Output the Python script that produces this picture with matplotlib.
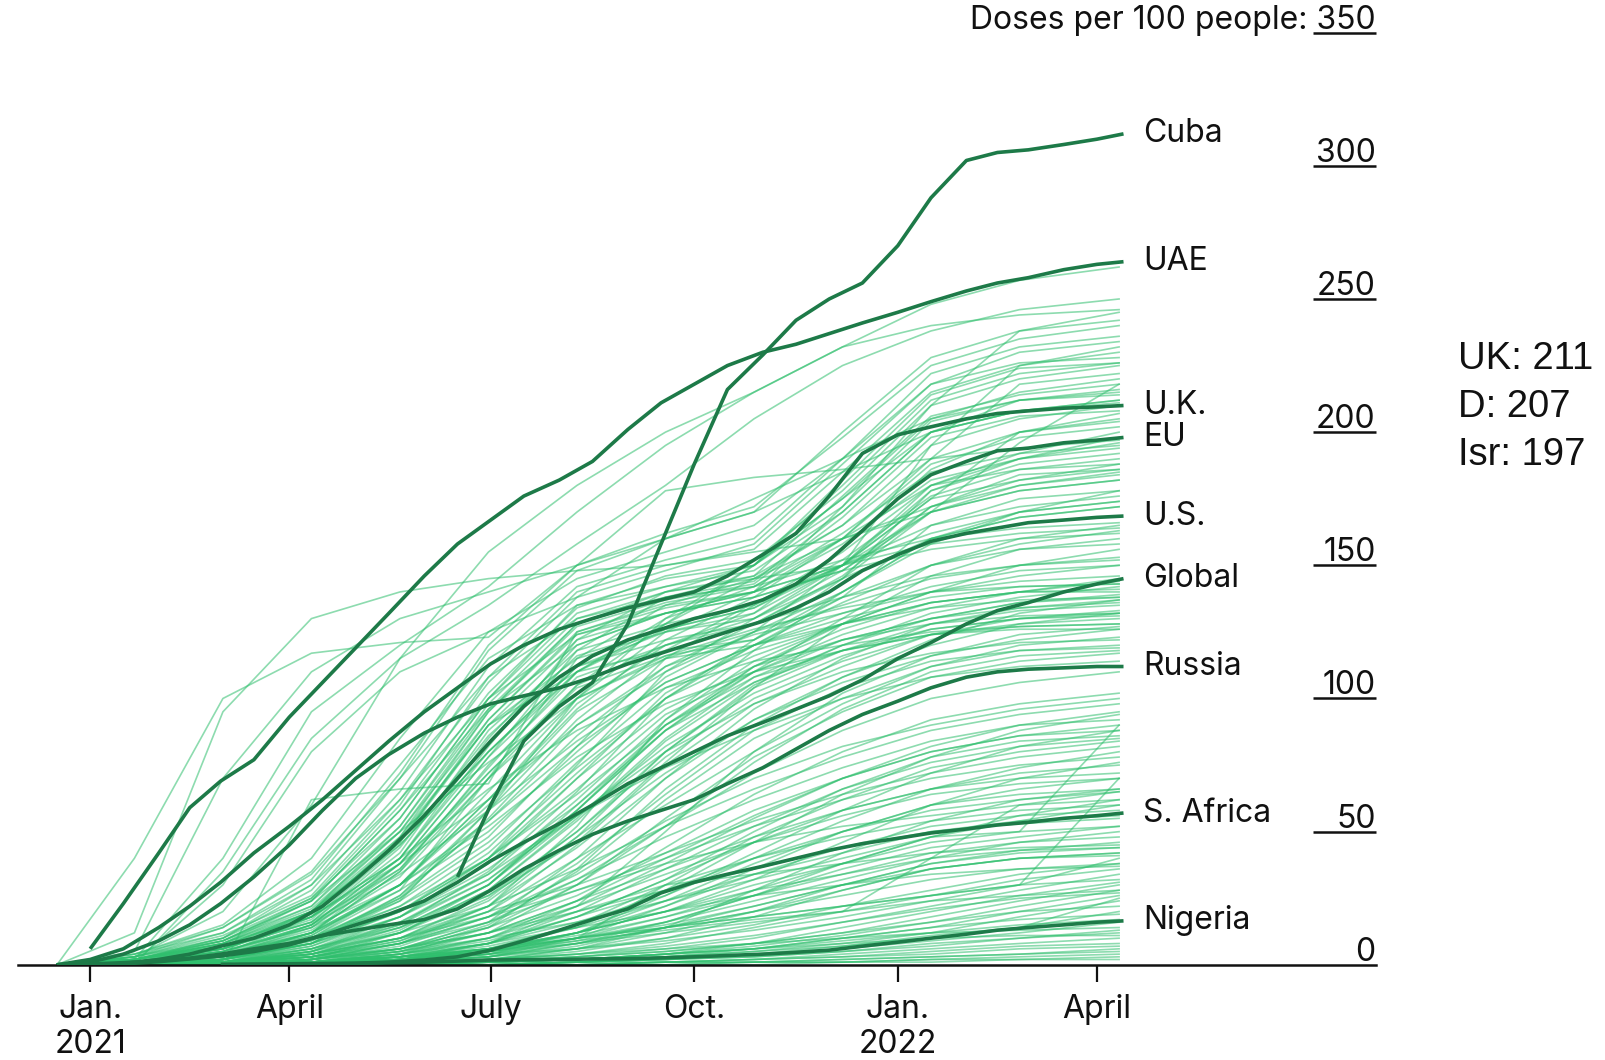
import numpy as np
import matplotlib.pyplot as plt

plt.rcParams['font.family'] = ['Inter', 'DejaVu Sans']

# days since 1 Jan 2021
tick_days = [0, 90, 181, 273, 365, 455]
tick_labels = ['Jan.\n2021', 'April', 'July', 'Oct.', 'Jan.\n2022', 'April']

# highlighted series, sampled twice a month
hl_days = [-15, 0, 15, 31, 45, 59, 74, 90, 105, 120, 135, 151, 166, 181, 196, 212, 227,
           243, 258, 273, 288, 304, 319, 334, 349, 365, 380, 396, 410, 424, 440, 455, 467]
N = None
cuba = [N, N, N, N, N, N, N, N, N, N, N, N, 33, 60, 84, 97, 106,
        128, 158, 188, 216, 229, 242, 250, 256, 270, 288, 302, 305, 306, 308, 310, 312]
uae = [N, 6, 23, 42, 59, 69, 77, 93, 106, 119, 132, 146, 158, 167, 176, 182, 189,
       201, 211, 218, 225, 230, 233, 237, 241, 245, 249, 253, 256, 258, 261, 263, 264]
uk = [0, 2, 6, 14, 22, 31, 42, 52, 62, 73, 84, 95, 104, 113, 120, 126, 130,
      134, 137, 140, 146, 154, 162, 176, 192, 199, 202, 205, 207, 208, 209, 209.5, 210]
eu = [0, 0, 0.5, 2, 4, 7, 10, 15, 22, 32, 43, 56, 70, 84, 97, 108, 116,
      122, 126, 130, 133, 137, 143, 152, 163, 175, 184, 189, 193, 194, 196, 197, 198]
us = [0, 1, 4, 9, 15, 23, 33, 45, 58, 70, 79, 87, 93, 98, 101, 104, 108,
      113, 117, 121, 125, 129, 134, 140, 148, 154, 159, 162, 164, 166, 167, 168, 168.5]
world = [0, 0, 0.3, 1.2, 2.2, 3.3, 5, 7.5, 11, 15, 19, 24, 31, 39, 46, 53, 60,
         68, 74, 80, 86, 91, 96, 101, 107, 115, 121, 128, 133, 136, 140, 143, 145]
russia = [0, 0.3, 0.8, 1.5, 2.5, 4, 6, 8, 11, 13, 15, 17, 21, 28, 36, 43, 49,
          54, 58, 62, 68, 74, 81, 88, 94, 99, 104, 108, 110, 111, 111.5, 112, 112]
s_africa = [N, N, N, N, N, 0.2, 0.3, 0.4, 0.5, 0.6, 1, 1.8, 3, 5.5, 9, 13, 17,
            21, 27, 31, 34, 37, 40, 43, 45.5, 47.5, 49.5, 51, 52.5, 53.5, 55, 56, 57]
nigeria = [N, N, N, N, N, N, N, 0.1, 0.3, 0.5, 0.8, 1, 1.4, 1.8, 1.9, 2, 2.2,
           2.3, 2.6, 3, 3.5, 4, 4.7, 5.5, 7, 8.5, 10, 11.5, 13, 14, 15, 16, 16.5]

hl_names = ['Cuba', 'UAE', 'U.K.', 'EU', 'U.S.', 'Global', 'Russia', 'S. Africa', 'Nigeria']
hl_series = [cuba, uae, uk, eu, us, world, russia, s_africa, nigeria]

# all other countries, sampled every 40 days
bg_days = [-15, 20, 60, 100, 140, 180, 220, 260, 300, 340, 380, 420, 465]
others = [
    [0, 40, 100, 117, 121, 123, 150, 178, 183, 186, 190, 194, 197],
    [0, 12, 95, 130, 140, 145, 148, 150, 155, 160, 170, 178, 182],
    [0, 5, 70, 110, 130, 140, 150, 160, 170, 185, 200, 208, 212],
    [0, 0, 35, 85, 115, 135, 158, 180, 205, 225, 238, 246, 250],
    [0, 2, 40, 95, 120, 142, 170, 195, 215, 232, 240, 244, 246],
    [0, 3, 20, 60, 115, 155, 180, 200, 215, 232, 248, 257, 262],
    [0, 0, 0, 62, 66, 68, 125, 135, 140, 150, 175, 200, 205],
    [0, 1, 30, 80, 110, 125, 138, 160, 175, 190, 205, 212, 215],
    [0, 2, 8, 22, 55, 100, 135, 145, 150, 175, 205, 215, 220],
    [0, 1, 6, 18, 48, 95, 128, 138, 144, 170, 200, 208, 212],
    [0, 2, 9, 25, 60, 108, 140, 150, 156, 185, 215, 225, 230],
    [0, 1, 5, 15, 40, 85, 120, 132, 140, 160, 190, 200, 204],
    [0, 3, 10, 28, 65, 112, 142, 152, 160, 190, 222, 232, 236],
    [0, 1, 7, 20, 50, 92, 125, 136, 142, 162, 185, 192, 195],
    [0, 2, 6, 17, 45, 80, 112, 125, 132, 150, 178, 188, 192],
    [0, 1, 4, 12, 35, 75, 108, 120, 128, 145, 170, 180, 185],
    [0, 4, 12, 30, 70, 118, 148, 160, 170, 200, 228, 238, 242],
    [0, 2, 8, 20, 52, 98, 130, 140, 145, 165, 195, 205, 210],
    [0, 1, 5, 14, 38, 78, 110, 118, 122, 140, 160, 168, 172],
    [0, 2, 9, 24, 58, 102, 134, 146, 152, 178, 210, 220, 225],
    [0, 1, 6, 16, 42, 88, 118, 128, 135, 155, 180, 190, 198],
    [0, 3, 11, 26, 62, 106, 138, 148, 158, 188, 218, 226, 228],
    [0, 1, 3, 10, 30, 65, 100, 115, 120, 138, 165, 175, 178],
    [0, 2, 7, 19, 47, 90, 122, 132, 138, 160, 188, 198, 202],
    [0, 1, 4, 13, 33, 70, 105, 120, 130, 150, 175, 182, 186],
    [0, 2, 10, 25, 55, 100, 132, 142, 150, 180, 212, 222, 226],
    [0, 1, 5, 15, 40, 80, 112, 122, 128, 146, 172, 182, 188],
    [0, 2, 8, 21, 50, 95, 127, 137, 143, 168, 198, 206, 208],
    [0, 3, 14, 35, 75, 115, 135, 142, 148, 170, 200, 212, 216],
    [0, 1, 4, 12, 30, 60, 95, 115, 125, 140, 160, 170, 174],
    [0, 2, 6, 18, 46, 92, 124, 134, 140, 158, 182, 190, 194],
    [0, 1, 3, 8, 25, 55, 90, 110, 125, 150, 180, 192, 200],
    [0, 4, 15, 40, 85, 125, 145, 155, 165, 190, 218, 230, 234],
    [0, 2, 7, 20, 48, 90, 115, 125, 130, 148, 170, 178, 182],
    [0, 1, 5, 14, 36, 72, 104, 116, 122, 145, 178, 190, 196],
    [0, 3, 12, 32, 72, 120, 150, 162, 172, 198, 225, 235, 240],
    [0, 1, 6, 16, 44, 86, 116, 126, 134, 152, 176, 186, 190],
    [0, 2, 9, 22, 52, 96, 128, 140, 146, 176, 206, 214, 218],
    [0, 1, 4, 10, 28, 70, 115, 135, 145, 150, 195, 225, 232],
    [0, 2, 8, 18, 40, 82, 122, 140, 150, 172, 210, 238, 245],
    [0, 0, 3, 12, 38, 78, 118, 138, 146, 165, 190, 218, 222],
    [0, 1, 6, 20, 46, 90, 110, 128, 150, 182, 214, 224, 226],
    [0, 3, 9, 24, 58, 96, 120, 132, 140, 172, 204, 212, 214],
    [0, 2, 7, 16, 36, 74, 110, 126, 134, 150, 170, 196, 218],
    [0, 1, 4, 11, 30, 62, 98, 120, 132, 156, 186, 200, 207],
    [0, 4, 14, 34, 70, 108, 130, 138, 142, 160, 180, 186, 188],
    [0, 0, 2, 8, 24, 58, 100, 130, 150, 175, 200, 208, 211],
    [0, 2, 10, 30, 62, 100, 124, 132, 138, 148, 172, 184, 186],
    [0, 0, 2, 8, 20, 40, 75, 110, 130, 145, 160, 168, 172],
    [0, 0, 1, 5, 15, 35, 65, 100, 122, 138, 150, 156, 160],
    [0, 0, 3, 12, 28, 50, 80, 108, 125, 135, 145, 150, 153],
    [0, 0, 1, 6, 18, 38, 70, 102, 120, 132, 142, 148, 150],
    [0, 0, 2, 10, 25, 48, 82, 115, 135, 150, 165, 172, 176],
    [0, 0, 0, 3, 10, 25, 50, 80, 105, 120, 132, 138, 142],
    [0, 0, 1, 5, 14, 30, 58, 90, 112, 126, 136, 140, 144],
    [0, 0, 2, 9, 22, 44, 76, 104, 118, 128, 136, 140, 141],
    [0, 1, 6, 18, 38, 62, 90, 112, 124, 132, 140, 144, 146],
    [0, 0, 1, 4, 12, 28, 55, 85, 108, 122, 130, 134, 136],
    [0, 0, 0, 2, 8, 20, 45, 75, 98, 112, 124, 130, 132],
    [0, 0, 2, 7, 18, 36, 60, 88, 106, 118, 126, 130, 131],
    [0, 0, 1, 3, 10, 24, 48, 72, 92, 106, 116, 122, 126],
    [0, 0, 3, 14, 30, 52, 78, 98, 110, 118, 124, 127, 128],
    [0, 0, 0, 1, 5, 15, 35, 62, 85, 100, 112, 118, 120],
    [0, 0, 1, 5, 16, 34, 62, 92, 114, 128, 140, 146, 150],
    [0, 0, 2, 8, 20, 40, 66, 94, 110, 122, 130, 136, 138],
    [0, 0, 0, 2, 7, 18, 38, 64, 88, 104, 114, 118, 119],
    [0, 1, 4, 15, 34, 58, 84, 106, 120, 130, 138, 142, 143],
    [0, 0, 1, 4, 12, 26, 50, 78, 100, 114, 124, 128, 130],
    [0, 0, 0, 3, 9, 22, 44, 70, 92, 108, 120, 128, 132],
    [0, 0, 2, 10, 24, 46, 74, 100, 116, 128, 136, 140, 140],
    [0, 0, 1, 6, 15, 32, 56, 82, 102, 116, 126, 130, 133],
    [0, 0, 0, 1, 4, 12, 30, 55, 78, 95, 108, 114, 117],
    [0, 0, 1, 4, 13, 30, 58, 88, 110, 124, 134, 140, 145],
    [0, 0, 2, 12, 35, 70, 100, 125, 140, 150, 158, 162, 164],
    [0, 1, 5, 20, 45, 80, 110, 130, 142, 152, 160, 164, 166],
    [0, 0, 3, 15, 38, 72, 105, 128, 145, 160, 172, 180, 184],
    [0, 0, 1, 8, 26, 58, 92, 118, 136, 150, 162, 170, 174],
    [0, 0, 2, 11, 30, 62, 96, 122, 138, 148, 156, 160, 162],
    [0, 0, 1, 4, 10, 22, 52, 92, 118, 140, 158, 170, 178],
    [0, 0, 0, 2, 12, 30, 60, 90, 110, 130, 150, 160, 165],
    [0, 0, 2, 6, 14, 26, 46, 76, 104, 128, 146, 156, 158],
    [0, 0, 1, 3, 6, 16, 40, 70, 96, 115, 128, 133, 135],
    [0, 0, 4, 18, 40, 66, 88, 104, 114, 120, 125, 127, 128],
    [0, 0, 0, 1, 4, 14, 36, 66, 90, 108, 122, 132, 137],
    [0, 0, 2, 9, 26, 54, 86, 112, 128, 138, 146, 150, 152],
    [0, 0, 0, 5, 18, 40, 70, 96, 112, 122, 128, 131, 132],
    [0, 1, 8, 24, 50, 76, 100, 116, 126, 134, 140, 142, 143],
    [0, 0, 1, 3, 9, 20, 40, 60, 80, 98, 112, 120, 123],
    [0, 0, 0, 2, 6, 14, 30, 52, 76, 96, 110, 116, 118],
    [0, 0, 3, 10, 22, 40, 64, 90, 108, 118, 124, 126, 126],
    [0, 0, 1, 7, 20, 42, 72, 100, 120, 136, 150, 158, 163],
    [0, 0, 0, 3, 12, 28, 54, 84, 106, 120, 130, 136, 139],
    [0, 0, 2, 12, 30, 54, 82, 106, 120, 128, 134, 137, 138],
    [0, 0, 0, 1, 3, 8, 22, 50, 80, 102, 116, 124, 127],
    [0, 0, 1, 6, 16, 32, 58, 88, 112, 128, 140, 150, 156],
    [0, 0, 0, 4, 14, 30, 56, 80, 98, 110, 117, 121, 122],
    [0, 0, 1, 2, 8, 22, 48, 80, 104, 118, 128, 134, 137],
    [0, 0, 2, 8, 18, 34, 56, 74, 88, 100, 108, 112, 114],
    [0, 0, 0, 1, 4, 10, 22, 38, 55, 70, 82, 90, 95],
    [0, 0, 0, 2, 6, 14, 26, 42, 58, 70, 80, 86, 88],
    [0, 0, 0, 0, 2, 6, 15, 30, 48, 62, 74, 80, 84],
    [0, 0, 1, 3, 8, 16, 28, 40, 52, 62, 70, 75, 78],
    [0, 0, 0, 1, 3, 8, 18, 32, 46, 58, 66, 72, 75],
    [0, 0, 0, 2, 5, 12, 24, 36, 48, 58, 66, 70, 72],
    [0, 0, 0, 0, 1, 4, 10, 22, 36, 50, 60, 66, 70],
    [0, 0, 0, 1, 4, 9, 18, 28, 40, 50, 58, 62, 65],
    [0, 0, 1, 4, 10, 18, 28, 38, 46, 52, 56, 60, 62],
    [0, 0, 0, 0, 2, 5, 12, 22, 34, 44, 52, 56, 58],
    [0, 0, 0, 1, 3, 7, 14, 24, 34, 42, 50, 54, 56],
    [0, 0, 0, 2, 6, 12, 20, 28, 36, 44, 50, 53, 55],
    [0, 0, 0, 0, 1, 3, 8, 16, 26, 36, 44, 48, 52],
    [0, 0, 0, 1, 2, 5, 10, 18, 26, 34, 42, 46, 48],
    [0, 0, 0, 0, 1, 3, 7, 14, 22, 30, 38, 43, 46],
    [0, 0, 0, 1, 3, 6, 12, 20, 28, 34, 40, 43, 44],
    [0, 0, 0, 0, 0, 2, 6, 12, 20, 30, 38, 42, 44],
    [0, 0, 0, 1, 2, 4, 8, 14, 20, 28, 36, 40, 42],
    [0, 0, 0, 0, 2, 5, 10, 16, 24, 32, 40, 46, 50],
    [0, 0, 0, 1, 4, 8, 16, 26, 40, 54, 66, 74, 80],
    [0, 0, 0, 0, 1, 4, 12, 26, 42, 58, 72, 82, 88],
    [0, 0, 1, 5, 12, 22, 36, 52, 66, 78, 88, 94, 98],
    [0, 0, 0, 2, 8, 18, 32, 48, 62, 74, 84, 90, 92],
    [0, 0, 0, 1, 5, 12, 24, 40, 56, 70, 80, 86, 90],
    [0, 0, 0, 0, 2, 8, 20, 36, 52, 66, 76, 82, 85],
    [0, 0, 0, 1, 6, 16, 32, 52, 72, 88, 100, 106, 110],
    [0, 0, 0, 0, 3, 10, 24, 44, 64, 80, 92, 98, 102],
    [0, 0, 1, 3, 8, 18, 34, 54, 70, 82, 90, 96, 100],
    [0, 0, 0, 1, 2, 6, 14, 28, 46, 64, 78, 88, 94],
    [0, 0, 0, 2, 6, 12, 22, 34, 46, 56, 64, 68, 70],
    [0, 0, 0, 0, 2, 8, 18, 32, 50, 66, 78, 84, 86],
    [0, 0, 1, 4, 10, 20, 30, 42, 54, 64, 72, 78, 82],
    [0, 0, 0, 1, 3, 6, 12, 20, 32, 46, 60, 70, 76],
    [0, 0, 0, 0, 1, 2, 6, 14, 28, 42, 54, 62, 66],
    [0, 0, 0, 1, 4, 10, 20, 30, 40, 48, 54, 58, 60],
    [0, 0, 0, 2, 5, 10, 16, 24, 32, 40, 48, 54, 60],
    [0, 0, 0, 0, 1, 4, 9, 16, 26, 38, 48, 56, 62],
    [0, 0, 0, 1, 2, 5, 12, 24, 38, 50, 60, 64, 66],
    [0, 0, 0, 0, 2, 6, 12, 20, 30, 38, 46, 50, 52],
    [0, 0, 0, 1, 3, 6, 11, 18, 28, 38, 48, 50, 90],
    [0, 0, 0, 0, 1, 3, 8, 14, 20, 26, 32, 36, 38],
    [0, 0, 0, 1, 2, 5, 10, 15, 22, 30, 36, 40, 41],
    [0, 0, 0, 0, 0, 2, 5, 10, 18, 28, 36, 40, 42],
    [0, 0, 0, 1, 3, 8, 14, 20, 26, 30, 34, 36, 37],
    [0, 0, 0, 0, 1, 3, 10, 30, 34, 38, 42, 44, 45],
    [0, 0, 0, 0, 1, 2, 4, 8, 14, 20, 26, 32, 36],
    [0, 0, 0, 0, 0, 1, 3, 6, 10, 16, 22, 28, 34],
    [0, 0, 0, 0, 1, 2, 3, 5, 8, 12, 18, 24, 30],
    [0, 0, 0, 0, 0, 1, 2, 4, 7, 11, 16, 22, 28],
    [0, 0, 0, 0, 1, 1, 2, 4, 6, 10, 14, 20, 26],
    [0, 0, 0, 0, 0, 0, 1, 3, 5, 8, 12, 18, 24],
    [0, 0, 0, 0, 0, 1, 2, 3, 5, 7, 10, 14, 20],
    [0, 0, 0, 0, 0, 0, 1, 2, 4, 6, 9, 12, 16],
    [0, 0, 0, 0, 0, 1, 1, 2, 3, 5, 8, 10, 13],
    [0, 0, 0, 0, 0, 0, 0, 1, 2, 4, 6, 8, 10],
    [0, 0, 0, 0, 0, 0, 1, 1, 2, 3, 5, 7, 8],
    [0, 0, 0, 0, 0, 0, 0, 1, 1, 2, 3, 4, 6],
    [0, 0, 0, 0, 0, 0, 0, 0, 1, 1, 2, 3, 4],
    [0, 0, 0, 0, 0, 0, 0, 0, 0, 1, 1, 2, 2],
    [0, 0, 0, 1, 2, 4, 6, 9, 13, 18, 24, 30, 40],
    [0, 0, 0, 0, 1, 3, 6, 10, 15, 22, 28, 34, 38],
    [0, 0, 0, 0, 2, 6, 10, 14, 18, 22, 26, 30, 32],
    [0, 0, 0, 1, 3, 5, 8, 12, 16, 20, 24, 26, 28],
    [0, 0, 0, 1, 3, 6, 10, 14, 18, 22, 26, 30, 70],
    [0, 0, 0, 0, 2, 5, 9, 13, 17, 20, 40, 60, 65],
    [0, 0, 0, 0, 0, 1, 2, 4, 8, 14, 20, 26, 31],
    [0, 0, 0, 0, 1, 2, 4, 7, 11, 16, 21, 25, 27],
    [0, 0, 0, 0, 0, 1, 3, 5, 8, 12, 16, 20, 22],
    [0, 0, 0, 0, 0, 0, 1, 3, 6, 10, 14, 17, 19],
    [0, 0, 0, 0, 0, 1, 2, 4, 6, 9, 12, 15, 17],
    [0, 0, 0, 0, 0, 0, 1, 2, 3, 5, 7, 10, 12],
    [0, 0, 0, 0, 0, 0, 0, 1, 2, 3, 4, 6, 7],
    [0, 0, 0, 0, 0, 0, 0, 0, 1, 2, 3, 4, 5],
    [0, 0, 0, 0, 0, 0, 1, 2, 4, 7, 11, 14, 25],
    [0, 0, 0, 0, 0, 1, 2, 4, 6, 8, 10, 11, 11],
    [0, 0, 0, 0, 1, 2, 4, 6, 8, 10, 12, 13, 14],
    [0, 0, 0, 0, 0, 0, 0, 1, 1, 1, 2, 2, 3],
]

scale_values = [0, 50, 100, 150, 200, 250, 300, 350]

notes = ['UK: 211', 'D: 207', 'Isr: 197']

light = '#2fbf6d'
dark = '#1d7a48'
ink = '#111111'

fig = plt.figure(figsize=(16.06, 10.60), dpi=100)
ax = fig.add_axes([0.0115, 0.0898, 0.845, 0.8794])
ax.set_xlim(-32.4, 580.9)
ax.set_ylim(0, 350)

for row in others:
    ax.plot(bg_days, row, color=light, alpha=0.55, lw=1.2, solid_joinstyle='round')

for name, vals in zip(hl_names, hl_series):
    y = np.array([np.nan if v is None else v for v in vals], dtype=float)
    ax.plot(hl_days, y, color=dark, lw=2.6, solid_capstyle='butt', zorder=5)
    ax.text(476, y[-1], name, ha='left', va='center', fontsize=23, color=ink, zorder=6)

# right-hand scale: underlined numbers sitting on their level
for v in scale_values:
    label = str(v) if v < 350 else 'Doses per 100 people: 350'
    ax.text(580.9, v + 1.5, label, ha='right', va='baseline', fontsize=23,
            color=ink, clip_on=False)
    if v > 0:
        ax.plot([552.5, 580.9], [v, v], color=ink, lw=1.8, clip_on=False,
                solid_capstyle='butt')

for s in ['top', 'right', 'left']:
    ax.spines[s].set_visible(False)
ax.spines['bottom'].set_linewidth(1.8)
ax.spines['bottom'].set_color(ink)
ax.set_yticks([])
ax.set_xticks(tick_days)
ax.set_xticklabels(tick_labels, fontsize=23, linespacing=1.15, color=ink)
ax.tick_params(axis='x', length=12, width=1.6, color=ink, pad=9)

for i, t in enumerate(notes):
    fig.text(0.908, 0.661 - i * 0.045, t, ha='left', va='center', fontsize=27.5,
             color=ink, family=['Liberation Sans', 'DejaVu Sans'])

fig.savefig('out.png', dpi=100)
